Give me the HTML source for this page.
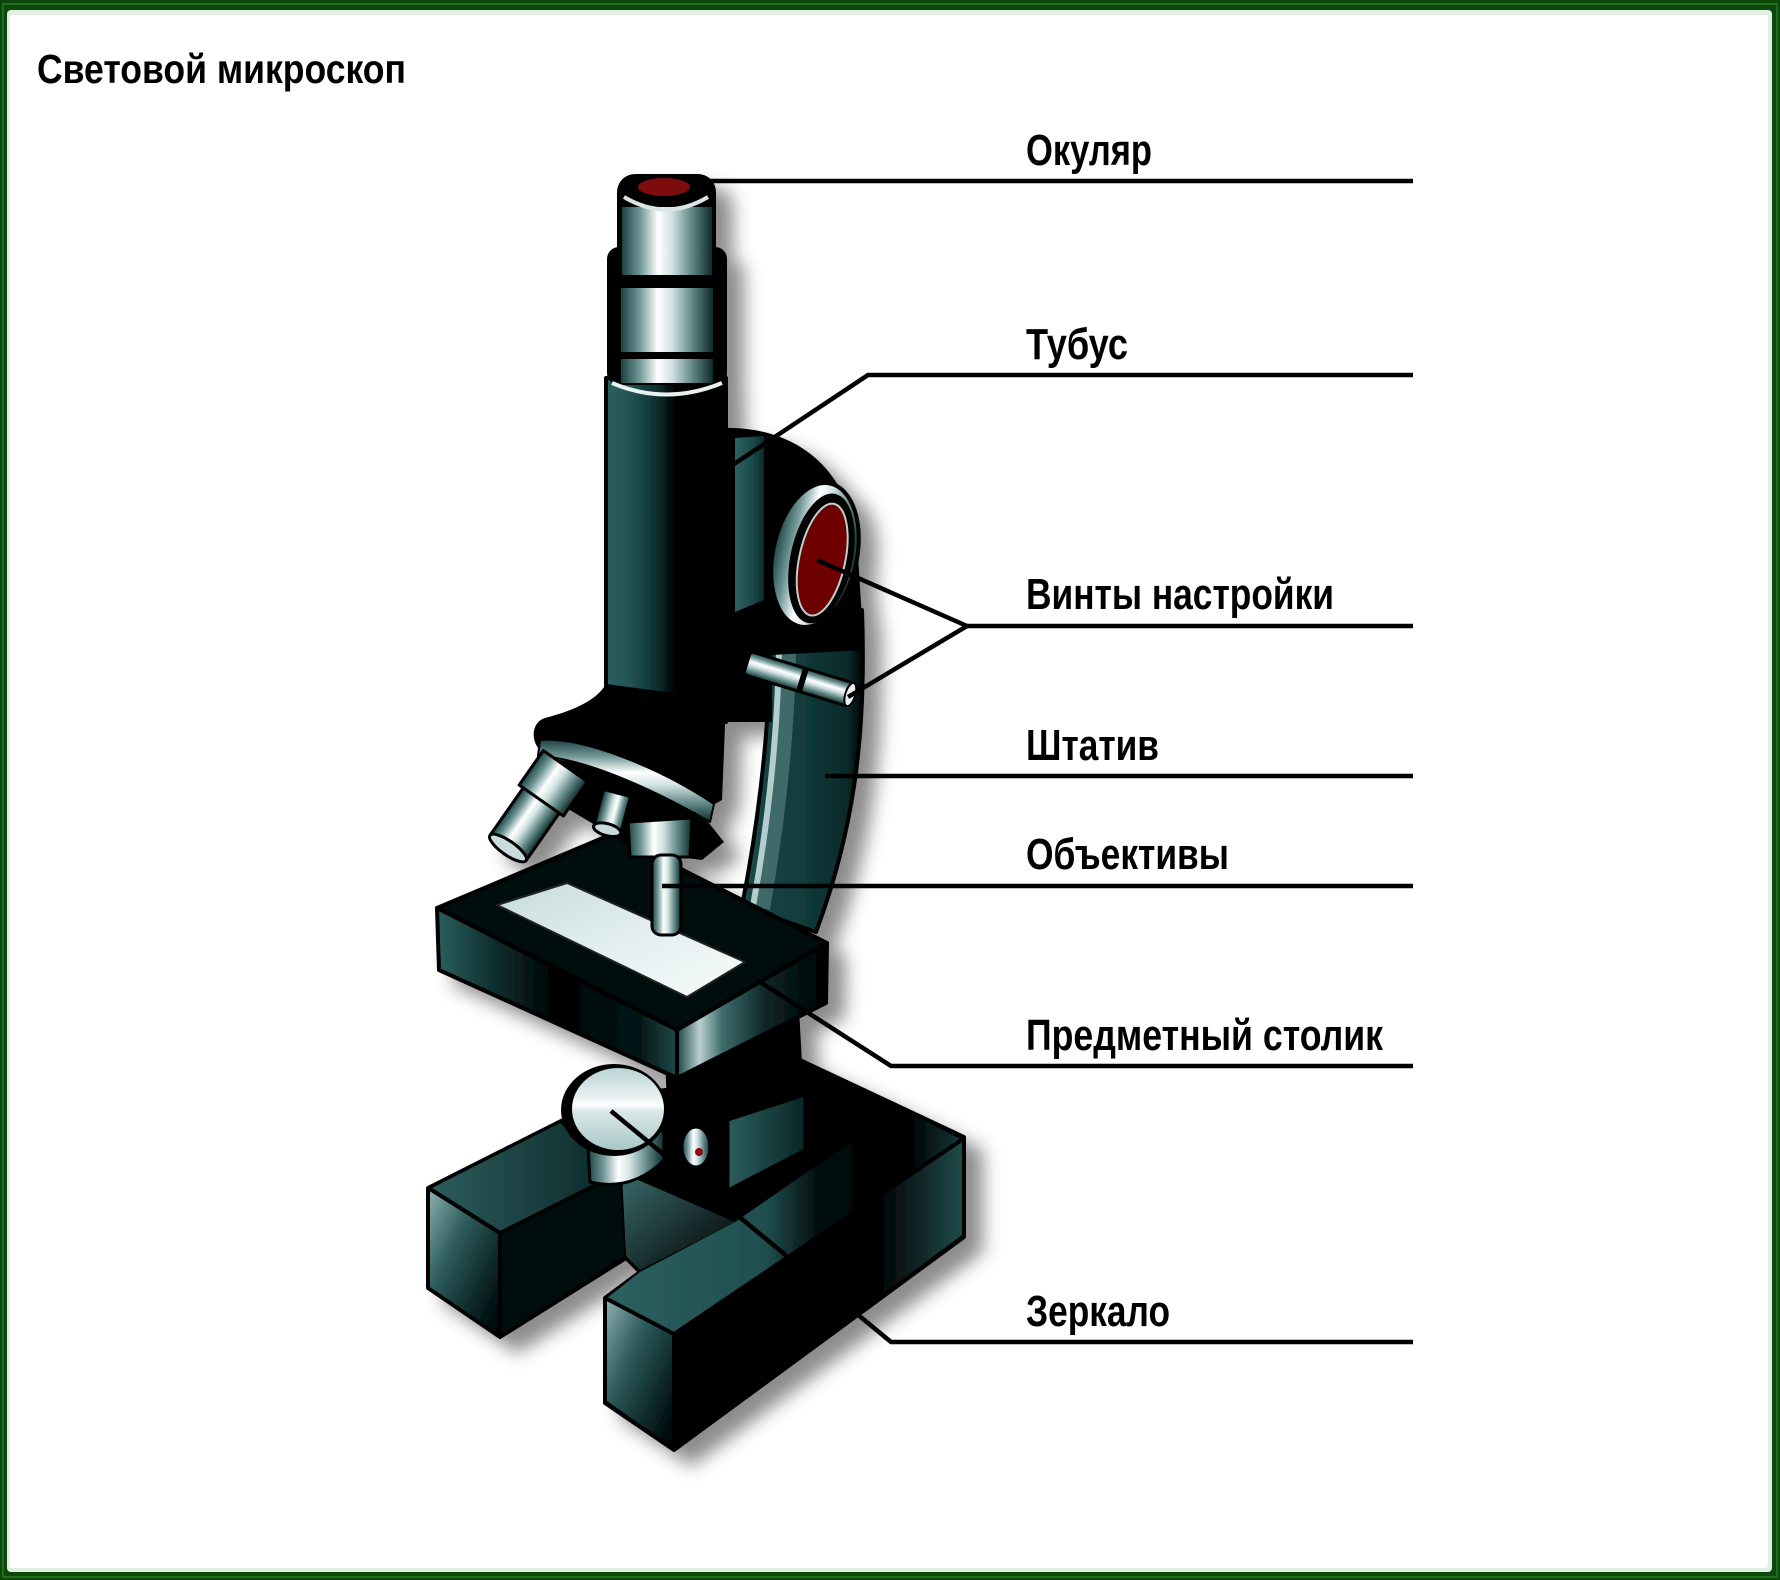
<!DOCTYPE html>
<html><head><meta charset="utf-8"><style>
html,body{margin:0;padding:0;background:#fff;}
svg{display:block;}
text{font-family:"Liberation Sans",Arial,sans-serif;font-weight:bold;fill:#000;}
</style></head><body>
<svg width="1780" height="1580" viewBox="0 0 1780 1580" xmlns="http://www.w3.org/2000/svg">
<defs>
 <linearGradient id="metal" x1="0" y1="0" x2="1" y2="0">
  <stop offset="0" stop-color="#1c4242"/><stop offset="0.2" stop-color="#6f9696"/>
  <stop offset="0.4" stop-color="#ffffff"/><stop offset="0.55" stop-color="#d3e3e3"/>
  <stop offset="0.78" stop-color="#5f8686"/><stop offset="1" stop-color="#0e2a2a"/>
 </linearGradient>
 <linearGradient id="metalV" x1="0" y1="0" x2="0" y2="1">
  <stop offset="0" stop-color="#1c4242"/><stop offset="0.2" stop-color="#6f9696"/>
  <stop offset="0.4" stop-color="#ffffff"/><stop offset="0.55" stop-color="#d3e3e3"/>
  <stop offset="0.78" stop-color="#5f8686"/><stop offset="1" stop-color="#0e2a2a"/>
 </linearGradient>
 <linearGradient id="tube" x1="0" y1="0" x2="1" y2="0">
  <stop offset="0" stop-color="#2c5e5e"/><stop offset="0.18" stop-color="#245656"/>
  <stop offset="0.42" stop-color="#0d3030"/><stop offset="0.58" stop-color="#000"/><stop offset="1" stop-color="#000"/>
 </linearGradient>
 <linearGradient id="strip" x1="0" y1="0" x2="1" y2="0">
  <stop offset="0" stop-color="#2d6060"/><stop offset="0.6" stop-color="#1c4a4a"/><stop offset="1" stop-color="#0a2a2a"/>
 </linearGradient>
 <linearGradient id="armG" gradientUnits="userSpaceOnUse" x1="745" y1="0" x2="865" y2="0">
  <stop offset="0" stop-color="#1c4848"/><stop offset="0.5" stop-color="#123a3a"/>
  <stop offset="0.85" stop-color="#092a2a"/><stop offset="1" stop-color="#000"/>
 </linearGradient>
 <linearGradient id="faceL" x1="0" y1="0" x2="1" y2="1">
  <stop offset="0" stop-color="#8aadad"/><stop offset="0.35" stop-color="#2f5d5d"/>
  <stop offset="0.75" stop-color="#082020"/><stop offset="1" stop-color="#000"/>
 </linearGradient>
 <linearGradient id="topTeal" x1="0" y1="0" x2="1" y2="0">
  <stop offset="0" stop-color="#2d5d5d"/><stop offset="1" stop-color="#0a2626"/>
 </linearGradient>
 <linearGradient id="stageL" x1="0" y1="0" x2="1" y2="0">
  <stop offset="0" stop-color="#2c5e5e"/><stop offset="0.25" stop-color="#0d2c2c"/>
  <stop offset="0.5" stop-color="#000"/><stop offset="0.85" stop-color="#061818"/><stop offset="1" stop-color="#1e4848"/>
 </linearGradient>
 <linearGradient id="stageR" x1="0" y1="0" x2="1" y2="0">
  <stop offset="0" stop-color="#1b4444"/><stop offset="0.15" stop-color="#b9cfcf"/>
  <stop offset="0.3" stop-color="#3f6d6d"/><stop offset="0.6" stop-color="#0a2424"/><stop offset="1" stop-color="#000"/>
 </linearGradient>
 <linearGradient id="rightTop" x1="0" y1="0" x2="1" y2="0">
  <stop offset="0" stop-color="#2e6060"/><stop offset="0.45" stop-color="#204e4e"/>
  <stop offset="0.6" stop-color="#020a0a"/><stop offset="0.85" stop-color="#000"/><stop offset="1" stop-color="#143a3a"/>
 </linearGradient>
 <linearGradient id="longFace" x1="0" y1="0" x2="1" y2="0">
  <stop offset="0" stop-color="#000"/><stop offset="0.7" stop-color="#000"/><stop offset="1" stop-color="#1f4a4a"/>
 </linearGradient>
 <linearGradient id="mirrorG" x1="0" y1="0" x2="0" y2="1">
  <stop offset="0" stop-color="#b9d3d3"/><stop offset="0.35" stop-color="#e6f0f0"/>
  <stop offset="0.45" stop-color="#ffffff"/><stop offset="0.52" stop-color="#dbe9e9"/><stop offset="1" stop-color="#a9c6c6"/>
 </linearGradient>
 <linearGradient id="slideG" x1="0" y1="0" x2="1" y2="1">
  <stop offset="0" stop-color="#c6dcdc"/><stop offset="0.5" stop-color="#e3eeee"/><stop offset="1" stop-color="#f7fbfb"/>
 </linearGradient>
 <linearGradient id="innerG" x1="0" y1="0" x2="1" y2="1">
  <stop offset="0" stop-color="#3a6a6a"/><stop offset="1" stop-color="#000"/>
 </linearGradient>
 <filter id="sh" x="-20%" y="-20%" width="150%" height="150%">
  <feDropShadow dx="17" dy="14" stdDeviation="9" flood-color="#000" flood-opacity="0.45"/>
 </filter>
</defs>

<!-- frame -->
<rect x="0" y="0" width="1780" height="1580" fill="#0c470c"/>
<rect x="3" y="4" width="1774" height="1573" fill="none" stroke="#1d6e1d" stroke-width="2"/>
<rect x="7" y="10" width="1765" height="1562" rx="4" fill="#e0f0e0"/>
<rect x="10" y="15" width="1758" height="1553" rx="3" fill="#ffffff"/>

<text x="37" y="83" font-size="41" textLength="369" lengthAdjust="spacingAndGlyphs">Световой микроскоп</text>

<g filter="url(#sh)" stroke-linejoin="round">
 <!-- BASE -->
 <polygon points="428,1188 563,1120 620,1095 666,1090 800,1060 964,1137 964,1237 674,1450 605,1403 605,1298 640,1272 626,1258 500,1337 428,1288" fill="#000" stroke="#000" stroke-width="4"/>
 <polygon points="430,1189 500,1231 620,1172 560,1123" fill="url(#topTeal)"/>
 <polygon points="430,1191 500,1234 500,1335 430,1287" fill="url(#faceL)"/>
 <polygon points="502,1234 620,1174 624,1256 502,1334" fill="#020a0a"/>
 <polygon points="622,1173 735,1222 640,1270 626,1256" fill="url(#innerG)"/>
 <polygon points="607,1298 674,1333 962,1140 900,1108 735,1222 640,1272" fill="url(#rightTop)"/>
 <polygon points="607,1300 674,1335 674,1448 607,1401" fill="url(#faceL)"/>
 <polygon points="676,1335 962,1142 962,1235 676,1448" fill="url(#longFace)"/>
 <path d="M674,1335 L674,1448 M500,1234 L500,1335 M430,1189 L500,1233 L622,1172 M607,1299 L674,1334 L963,1139" stroke="#000" stroke-width="4" fill="none"/>

 <!-- stage support -->
 <polygon points="667,1070 797,1000 802,1090 735,1195 672,1185" fill="#000" stroke="#000" stroke-width="3"/>
 <polygon points="728,1120 728,1190 805,1150 805,1095" fill="url(#topTeal)" stroke="#000" stroke-width="3"/>
 <ellipse cx="696" cy="1147" rx="14" ry="20" fill="url(#metal)" stroke="#000" stroke-width="3"/>
 <circle cx="699" cy="1152" r="4" fill="#8a0c0c"/>

 <!-- mirror -->
 <path d="M588,1148 Q625,1162 664,1128 L664,1160 Q632,1192 590,1182 Z" fill="url(#metal)" stroke="#000" stroke-width="3"/>
 <ellipse cx="614" cy="1110" rx="53" ry="46" fill="#000"/>
 <ellipse cx="618" cy="1109" rx="46" ry="41" fill="url(#mirrorG)"/>

 <!-- lower arm -->
 <path d="M770,640 L862,610 C866,720 858,820 816,932 L742,906 C755,840 770,740 770,640 Z" fill="url(#armG)" stroke="#000" stroke-width="4"/>
 <path d="M786,645 C785,745 772,840 760,908" stroke="#3f6b6b" stroke-width="20" fill="none"/>
 <path d="M779,645 C778,745 765,840 753,906" stroke="#b4cccc" stroke-width="6" fill="none"/>

 <!-- STAGE -->
 <polygon points="437,908 612,834 827,943 677,1030" fill="#030808" stroke="#000" stroke-width="4"/>
 <polygon points="437,908 677,1030 677,1078 439,970" fill="url(#stageL)" stroke="#000" stroke-width="4"/>
 <polygon points="677,1030 827,943 826,1003 677,1078" fill="url(#stageR)" stroke="#000" stroke-width="4"/>
 <polygon points="497,905 567,883 745,962 687,997" fill="url(#slideG)" stroke="#222" stroke-width="2"/>

 <!-- upper limb -->
 <path d="M722,428 C790,426 845,462 857,540 L864,650 L772,655 L772,722 L722,722 Z" fill="#000"/>
 <path d="M735,438 L764,436 L764,600 L735,612 Z" fill="url(#strip)"/>

 <!-- TUBE -->
 <path d="M606,378 L726,378 L726,722 L606,692 Z" fill="url(#tube)" stroke="#000" stroke-width="4"/>
 <!-- nosepiece -->
 <path d="M606,684 C596,702 568,712 545,718 C532,722 530,740 540,750 L700,812 L722,800 L726,700 Z" fill="#000"/>
 <path d="M538,758 C585,758 655,790 708,822 L724,842 L702,860 L640,852 L540,792 Z" fill="#000"/>
 <path d="M540,740 C582,736 660,768 714,804 L710,822 C655,790 585,758 538,756 Z" fill="url(#metalV)" stroke="#000" stroke-width="2"/>

 <!-- eyepiece -->
 <rect x="607" y="247" width="120" height="138" rx="12" fill="#000"/>
 <rect x="617" y="174" width="99" height="95" rx="18" fill="#000"/>
 <rect x="622" y="207" width="90" height="68" fill="url(#metal)"/>
 <rect x="621" y="288" width="92" height="64" fill="url(#metal)"/>
 <rect x="621" y="359" width="92" height="24" fill="url(#metal)"/>
 <path d="M612,383 Q666,406 722,383" stroke="#e8f0f0" stroke-width="4" fill="none"/>
 <ellipse cx="666" cy="189" rx="46" ry="15" fill="#050505"/>
 <path d="M624,197 Q666,222 708,197" stroke="#d8e6e6" stroke-width="4" fill="none"/>
 <ellipse cx="664" cy="187" rx="26" ry="9" fill="#7d1010"/>

 <!-- coarse knob -->
 <g transform="rotate(12 815 555)">
  <ellipse cx="815" cy="555" rx="42" ry="73" fill="url(#metal)" stroke="#000" stroke-width="4"/>
  <ellipse cx="822" cy="557" rx="31" ry="66" fill="#000"/>
  <ellipse cx="823" cy="558" rx="23" ry="57" fill="#6e0505" stroke="#bcd0d0" stroke-width="2"/>
 </g>
 <!-- fine knob -->
 <g transform="translate(747,663) rotate(17)">
  <rect x="0" y="-12" width="108" height="24" rx="4" fill="url(#metalV)" stroke="#000" stroke-width="3"/>
  <rect x="55" y="-13" width="6" height="26" fill="#000"/>
  <ellipse cx="108" cy="0" rx="5" ry="12" fill="#e8f0f0" stroke="#000" stroke-width="2"/>
 </g>

 <!-- left objective -->
 <g transform="translate(508,848) rotate(-55)">
  <rect x="0" y="-22" width="100" height="44" fill="url(#metalV)" stroke="#000" stroke-width="3"/>
  <rect x="58" y="-27" width="42" height="54" fill="url(#metalV)" stroke="#000" stroke-width="3"/>
  <ellipse cx="0" cy="0" rx="7" ry="22" fill="#c9dbdb" stroke="#000" stroke-width="3"/>
 </g>
 <!-- middle objective -->
 <g transform="translate(617,793) rotate(105)">
  <rect x="0" y="-14" width="38" height="28" fill="url(#metalV)" stroke="#000" stroke-width="3"/>
  <ellipse cx="38" cy="0" rx="6" ry="14" fill="#c9dbdb" stroke="#000" stroke-width="3"/>
 </g>
 <!-- long objective -->
 <rect x="626" y="812" width="70" height="14" fill="#000"/>
 <polygon points="628,822 692,818 690,857 630,857" fill="url(#metal)" stroke="#000" stroke-width="3"/>
 <rect x="652" y="855" width="29" height="80" rx="9" fill="url(#metal)" stroke="#000" stroke-width="3"/>
</g>

<!-- leader lines -->
<g stroke="#000" stroke-width="4.5" fill="none" stroke-linejoin="miter">
 <path d="M710,181 H1413"/>
 <path d="M677,502 L868,375 H1413"/>
 <path d="M817,560 L967,626 L848,697"/>
 <path d="M967,626 H1413"/>
 <path d="M825,776 H1413"/>
 <path d="M662,886 H1413"/>
 <path d="M757,980 L891,1066 H1413"/>
 <path d="M611,1111 L891,1342 H1413"/>
</g>

<!-- labels -->
<text x="1026" y="165" font-size="44" textLength="126" lengthAdjust="spacingAndGlyphs">Окуляр</text>
<text x="1026" y="359" font-size="44" textLength="102" lengthAdjust="spacingAndGlyphs">Тубус</text>
<text x="1026" y="609" font-size="44" textLength="308" lengthAdjust="spacingAndGlyphs">Винты настройки</text>
<text x="1026" y="760" font-size="44" textLength="133" lengthAdjust="spacingAndGlyphs">Штатив</text>
<text x="1026" y="869" font-size="44" textLength="203" lengthAdjust="spacingAndGlyphs">Объективы</text>
<text x="1026" y="1050" font-size="44" textLength="357" lengthAdjust="spacingAndGlyphs">Предметный столик</text>
<text x="1026" y="1326" font-size="44" textLength="144" lengthAdjust="spacingAndGlyphs">Зеркало</text>
</svg>
</body></html>
